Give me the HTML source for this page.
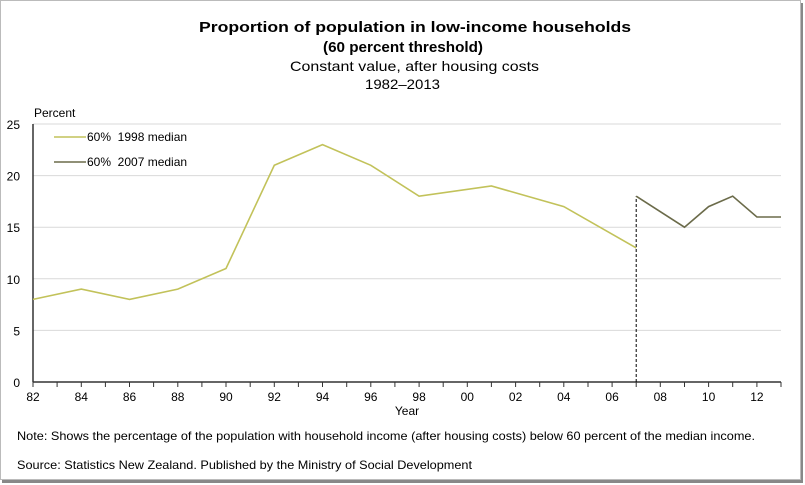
<!DOCTYPE html>
<html><head><style>
body{margin:0;background:#fff;}
svg{display:block;font-family:"Liberation Sans",Arial,sans-serif;}
</style></head><body>
<svg width="805" height="485" viewBox="0 0 805 485">
<rect x="0" y="0" width="805" height="485" fill="#fff"/>
<rect x="2" y="3" width="801" height="480" fill="#888"/>
<rect x="0.5" y="0.5" width="800" height="479" fill="#fff" stroke="#bbb"/>
<text x="199" y="32" font-size="15" font-weight="bold" textLength="432" lengthAdjust="spacingAndGlyphs">Proportion of population in low-income households</text>
<text x="323" y="52" font-size="15" font-weight="bold" textLength="160" lengthAdjust="spacingAndGlyphs">(60 percent threshold)</text>
<text x="290" y="71" font-size="14" textLength="249" lengthAdjust="spacingAndGlyphs">Constant value, after housing costs</text>
<text x="365" y="89" font-size="14" textLength="75" lengthAdjust="spacingAndGlyphs">1982–2013</text>
<text x="34" y="117" font-size="12">Percent</text>
<g stroke="#d9d9d9" stroke-width="1">
<line x1="33" y1="124" x2="781" y2="124"/>
<line x1="33" y1="175.6" x2="781" y2="175.6"/>
<line x1="33" y1="227.2" x2="781" y2="227.2"/>
<line x1="33" y1="278.8" x2="781" y2="278.8"/>
<line x1="33" y1="330.4" x2="781" y2="330.4"/>
</g>
<g font-size="12" text-anchor="end">
<text x="20" y="129">25</text><text x="20" y="180.6">20</text><text x="20" y="232.2">15</text>
<text x="20" y="283.8">10</text><text x="20" y="335.4">5</text><text x="20" y="387">0</text>
</g>
<line x1="33" y1="124" x2="33" y2="382" stroke="#333" stroke-width="1.5"/>
<line x1="33" y1="382" x2="781" y2="382" stroke="#333" stroke-width="1.5"/>
<g stroke="#333" stroke-width="1">
<line x1="33" y1="382" x2="33" y2="387"/><line x1="57.1" y1="382" x2="57.1" y2="387"/><line x1="81.3" y1="382" x2="81.3" y2="387"/><line x1="105.4" y1="382" x2="105.4" y2="387"/><line x1="129.5" y1="382" x2="129.5" y2="387"/><line x1="153.6" y1="382" x2="153.6" y2="387"/><line x1="177.8" y1="382" x2="177.8" y2="387"/><line x1="201.9" y1="382" x2="201.9" y2="387"/><line x1="226" y1="382" x2="226" y2="387"/><line x1="250.2" y1="382" x2="250.2" y2="387"/><line x1="274.3" y1="382" x2="274.3" y2="387"/><line x1="298.4" y1="382" x2="298.4" y2="387"/><line x1="322.5" y1="382" x2="322.5" y2="387"/><line x1="346.7" y1="382" x2="346.7" y2="387"/><line x1="370.8" y1="382" x2="370.8" y2="387"/><line x1="394.9" y1="382" x2="394.9" y2="387"/><line x1="419.1" y1="382" x2="419.1" y2="387"/><line x1="443.2" y1="382" x2="443.2" y2="387"/><line x1="467.3" y1="382" x2="467.3" y2="387"/><line x1="491.4" y1="382" x2="491.4" y2="387"/><line x1="515.6" y1="382" x2="515.6" y2="387"/><line x1="539.7" y1="382" x2="539.7" y2="387"/><line x1="563.8" y1="382" x2="563.8" y2="387"/><line x1="588" y1="382" x2="588" y2="387"/><line x1="612.1" y1="382" x2="612.1" y2="387"/><line x1="636.2" y1="382" x2="636.2" y2="387"/><line x1="660.3" y1="382" x2="660.3" y2="387"/><line x1="684.5" y1="382" x2="684.5" y2="387"/><line x1="708.6" y1="382" x2="708.6" y2="387"/><line x1="732.7" y1="382" x2="732.7" y2="387"/><line x1="756.9" y1="382" x2="756.9" y2="387"/><line x1="781" y1="382" x2="781" y2="387"/>
</g>
<g font-size="12" text-anchor="middle">
<text x="33" y="401">82</text><text x="81.3" y="401">84</text><text x="129.5" y="401">86</text><text x="177.8" y="401">88</text><text x="226" y="401">90</text><text x="274.3" y="401">92</text><text x="322.5" y="401">94</text><text x="370.8" y="401">96</text><text x="419.1" y="401">98</text><text x="467.3" y="401">00</text><text x="515.6" y="401">02</text><text x="563.8" y="401">04</text><text x="612.1" y="401">06</text><text x="660.3" y="401">08</text><text x="708.6" y="401">10</text><text x="756.9" y="401">12</text>
<text x="407" y="415">Year</text>
</g>
<line x1="636.2" y1="382" x2="636.2" y2="196.2" stroke="#000" stroke-dasharray="3,2" stroke-width="1"/>
<polyline fill="none" stroke="#c2c25a" stroke-width="1.6" points="33,299.4 81.3,289.1 129.5,299.4 177.8,289.1 226,268.5 274.3,165.3 322.5,144.6 370.8,165.3 419.1,196.2 491.4,186 563.8,206.6 636.2,247.9"/>
<polyline fill="none" stroke="#6b6b4a" stroke-width="1.6" points="636.2,196.2 684.5,227.2 708.6,206.6 732.7,196.2 756.9,217 781,217"/>
<line x1="54" y1="137" x2="86" y2="137" stroke="#c2c25a" stroke-width="1.6"/>
<text x="87" y="141" font-size="12">60%&#160; 1998 median</text>
<line x1="54" y1="162" x2="86" y2="162" stroke="#6b6b4a" stroke-width="1.6"/>
<text x="87" y="166" font-size="12">60%&#160; 2007 median</text>
<text x="17" y="440" font-size="12" textLength="738" lengthAdjust="spacingAndGlyphs">Note: Shows the percentage of the population with household income (after housing costs) below 60 percent of the median income.</text>
<text x="17" y="469" font-size="12" textLength="455" lengthAdjust="spacingAndGlyphs">Source: Statistics New Zealand. Published by the Ministry of Social Development</text>
</svg>
</body></html>
